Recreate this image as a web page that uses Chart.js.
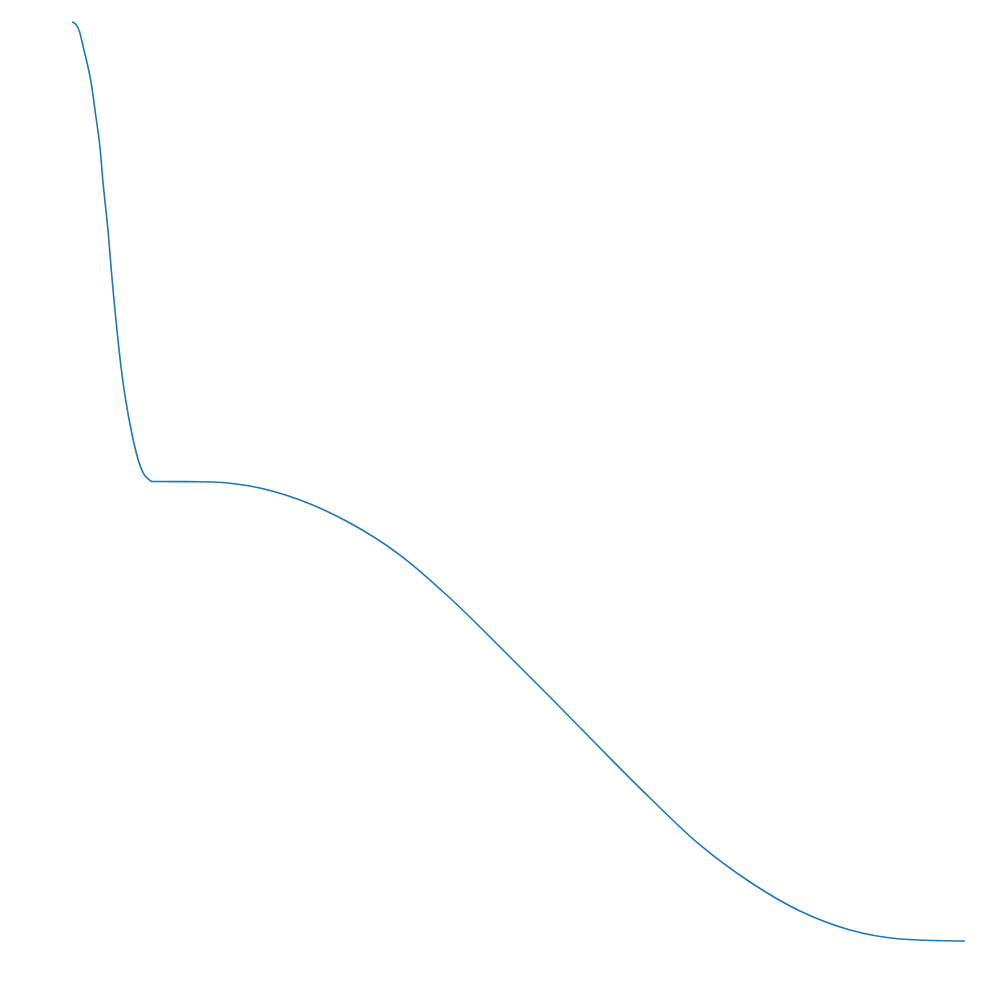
<!DOCTYPE html>
<html>
<head>
<meta charset="utf-8">
<script src="https://cdn.jsdelivr.net/npm/chart.js@4/dist/chart.umd.min.js"></script>
<style>
  html, body { margin: 0; padding: 0; background: #fff; }
</style>
</head>
<body>
<canvas id="chart" width="1000" height="1000"></canvas>
<script>
// values (x from 0 to 1, y from 1 down to 0)
const xValues = [0, 0.0045, 0.0084, 0.0123, 0.0213, 0.0265, 0.0314, 0.0347, 0.0406, 0.0437, 0.0470, 0.0507, 0.0549,
  0.0601, 0.0669, 0.0742, 0.0798, 0.0873, 0.0896,
  0.1433, 0.1993, 0.2553, 0.3113, 0.3673, 0.4233, 0.4793, 0.5353, 0.5913, 0.6473, 0.7032,
  0.7592, 0.8152, 0.8712, 0.9272, 1.0]
const yValues = [1.0, 0.9973, 0.9897, 0.9739, 0.9347, 0.8988, 0.8629, 0.8259, 0.7704, 0.7334, 0.6975, 0.6616, 0.6246,
  0.5887, 0.5528, 0.5234, 0.5092, 0.5011, 0.5,
  0.4998, 0.4951, 0.4799, 0.4548, 0.4200, 0.3732, 0.3199, 0.2655, 0.2100, 0.1556, 0.1045,
  0.0642, 0.0326, 0.0120, 0.0022, 0.0]

const points = xValues.map((x, i) => ({ x, y: yValues[i] }))

const init = function () {
  const ctx = document.getElementById('chart')
  new Chart(ctx, {
    type: 'scatter',
    data: {
      datasets: [
        {
          data: points,
          showLine: true,
          borderColor: '#1f77b4',
          borderWidth: 1.6,
          pointRadius: 0,
          cubicInterpolationMode: 'monotone',
          clip: false,
        },
      ],
    },
    options: {
      responsive: false,
      animation: false,
      layout: { padding: { left: 72, right: 35, top: 22, bottom: 59 } },
      plugins: { legend: { display: false }, tooltip: { enabled: false } },
      scales: {
        x: { type: 'linear', min: 0, max: 1, display: false },
        y: { type: 'linear', min: 0, max: 1, display: false },
      },
    },
  })
}

document.addEventListener('DOMContentLoaded', init)
</script>
</body>
</html>
